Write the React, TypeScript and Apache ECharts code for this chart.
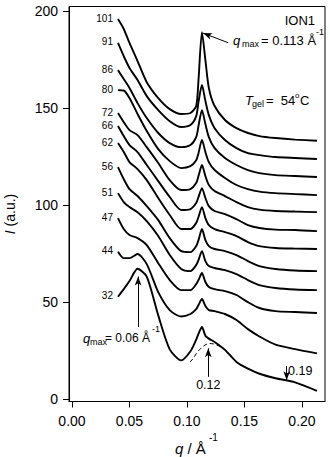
import React, { useEffect, useRef } from 'react';
import * as echarts from 'echarts';

// scattering vector q (Å^-1) sampling points shared by all curves
const Q = [0.040, 0.045, 0.050, 0.057, 0.065, 0.075, 0.085, 0.095, 0.103, 0.108, 0.110, 0.113, 0.116, 0.119, 0.124, 0.133, 0.143, 0.153, 0.163, 0.177, 0.194, 0.213];

// temperature labels (°C) of the curves, top to bottom
const LABELS = ['101', '91', '86', '80', '72', '66', '62', '56', '51', '47', '44', '32'];

// intensities I (a.u.), offset curves
const I_101 = [195.7, 190.6, 183.4, 174.1, 163.2, 155.0, 149.3, 146.8, 147.3, 150.9, 164.3, 189.0, 174.6, 160.2, 150.9, 143.7, 139.5, 137.0, 135.4, 134.4, 133.6, 133.0];
const I_91 = [183.4, 176.6, 170.5, 164.3, 156.0, 148.8, 143.1, 140.1, 141.1, 145.7, 152.9, 161.7, 153.5, 146.2, 139.5, 133.4, 129.2, 126.6, 125.6, 124.6, 124.1, 123.6];
const I_86 = [169.4, 164.8, 160.2, 152.4, 144.7, 137.0, 131.8, 129.7, 130.8, 134.9, 140.6, 148.8, 141.6, 134.9, 129.2, 124.1, 120.5, 117.9, 116.3, 115.3, 114.8, 114.3];
const I_80 = [159.1, 158.9, 155.0, 146.8, 138.0, 128.7, 122.5, 118.9, 119.9, 123.0, 126.6, 133.4, 127.2, 122.0, 117.9, 113.8, 110.2, 108.1, 106.8, 106.0, 105.5, 105.0];
const I_72 = [147.3, 142.6, 138.5, 135.9, 129.7, 121.5, 112.7, 107.6, 108.1, 111.2, 114.8, 120.5, 114.8, 110.2, 107.1, 104.5, 101.4, 98.8, 97.5, 96.8, 96.5, 96.2];
const I_66 = [140.6, 135.4, 130.8, 127.2, 120.5, 112.2, 104.0, 97.3, 97.8, 100.9, 104.0, 108.6, 103.5, 99.3, 96.8, 95.2, 92.6, 89.5, 88.0, 87.2, 87.0, 86.4];
const I_62 = [131.8, 127.2, 122.0, 118.4, 112.7, 103.5, 94.7, 87.5, 87.5, 90.6, 93.7, 98.8, 93.1, 89.5, 87.5, 85.9, 83.9, 80.8, 78.7, 77.7, 77.4, 77.2];
const I_56 = [119.4, 113.2, 108.1, 104.5, 99.3, 92.1, 82.8, 76.1, 75.6, 78.7, 81.8, 87.5, 81.8, 78.7, 77.2, 76.1, 74.1, 71.0, 68.4, 66.9, 66.1, 65.8];
const I_51 = [106.0, 101.4, 98.8, 96.2, 91.6, 83.9, 74.1, 66.9, 65.8, 68.9, 71.5, 76.1, 71.0, 68.4, 67.4, 66.3, 64.3, 61.2, 58.6, 57.1, 56.3, 56.0];
const I_47 = [93.1, 87.5, 84.4, 82.8, 79.2, 69.9, 61.2, 56.0, 56.0, 59.1, 61.2, 64.8, 60.2, 57.6, 56.5, 55.5, 53.5, 49.8, 46.8, 45.2, 44.7, 44.2];
const I_44 = [75.8, 72.5, 72.5, 74.6, 69.4, 55.0, 45.7, 42.4, 43.7, 46.2, 48.3, 51.4, 47.8, 45.7, 45.2, 43.7, 40.6, 35.9, 32.1, 27.9, 25.6, 23.4];
const I_32 = [52.6, 56.5, 60.7, 67.0, 63.0, 43.0, 25.5, 19.8, 24.5, 30.5, 33.5, 37.0, 32.5, 31.0, 29.3, 25.2, 19.0, 15.5, 12.9, 10.6, 8.5, 4.1];

const CURVES = [I_101, I_91, I_86, I_80, I_72, I_66, I_62, I_56, I_51, I_47, I_44, I_32];

// dashed fitted peak under the 32 °C curve
const DASH_Q = [0.1026, 0.1052, 0.1087, 0.1122, 0.1157, 0.1191, 0.1235, 0.1278, 0.1322, 0.1365, 0.140];
const DASH_I = [18.9, 20.7, 23.8, 26.1, 27.7, 28.5, 28.2, 27.2, 25.6, 23.3, 21.0];

// axis ticks
const X_TICKS = [0, 0.05, 0.1, 0.15, 0.2];
const Y_TICKS = [0, 50, 100, 150, 200];

// annotation arrows [q1, I1, q2, I2] (tail -> head)
const ARROW_QMAX113 = [0.1359, 183.5, 0.1139, 188.5];
const ARROW_QMAX06 = [0.0575, 37.0, 0.0575, 63.0];
const ARROW_012 = [0.1185, 11.3, 0.1185, 26.0];
const ARROW_019 = [0.1867, 16.9, 0.1867, 9.6];

const FONT = '"Liberation Sans", Arial, Helvetica, sans-serif';

function txt(x: number, y: number, text: string, size: number, opts: any = {}) {
  return {
    type: 'text',
    x,
    y,
    rotation: opts.rotation || 0,
    silent: true,
    style: {
      text,
      fill: '#000',
      fontFamily: FONT,
      fontSize: size,
      fontStyle: opts.italic ? 'italic' : 'normal',
      textAlign: opts.align || 'left',
      align: opts.align || 'left',
      textVerticalAlign: 'middle',
      verticalAlign: 'middle',
      rich: opts.rich,
    },
  };
}

function arrow(a: number[]) {
  return [{ coord: [a[0], a[1]] }, { coord: [a[2], a[3]] }];
}

export default function App() {
  const ref = useRef<HTMLDivElement>(null);
  useEffect(() => {
    const chart = echarts.init(ref.current!, null, { renderer: 'svg' });

    const series: any[] = CURVES.map((vals, k) => ({
      type: 'line',
      name: LABELS[k],
      symbol: 'none',
      showSymbol: true,
      smooth: 0.25,
      silent: true,
      lineStyle: { color: '#000', width: 1.9 },
      itemStyle: { color: '#000' },
      data: Q.map((q, i) =>
        i === 0
          ? {
              value: [q, vals[i]],
              symbol: 'circle',
              symbolSize: 0.01,
              label: {
                show: true,
                position: 'left',
                distance: 5,
                formatter: LABELS[k],
                fontSize: 10,
                fontFamily: FONT,
                color: '#000',
                offset: [0, -1],
              },
            }
          : [q, vals[i]]
      ),
    }));

    series.push({
      type: 'line',
      name: 'fit',
      symbol: 'none',
      smooth: 0.3,
      silent: true,
      lineStyle: { color: '#000', width: 1, type: [4, 3] },
      data: DASH_Q.map((q, i) => [q, DASH_I[i]]),
      markLine: {
        silent: true,
        symbol: ['none', 'arrow'],
        symbolSize: [5, 9],
        label: { show: false },
        lineStyle: { color: '#000', width: 1, type: 'solid' },
        emphasis: { disabled: true },
        data: [arrow(ARROW_QMAX113), arrow(ARROW_QMAX06), arrow(ARROW_012), arrow(ARROW_019)],
      },
    });

    chart.setOption({
      animation: false,
      backgroundColor: '#fff',
      grid: {
        left: 69,
        right: 5,
        top: 6.5,
        bottom: 55.5,
        show: true,
        borderColor: '#000',
        borderWidth: 1,
        containLabel: false,
        outerBoundsMode: 'none',
      },
      xAxis: {
        type: 'value',
        min: -0.0026,
        max: 0.22,
        axisLine: { show: true, onZero: false, lineStyle: { color: '#000', width: 1 } },
        axisTick: { show: true, inside: false, length: 6, customValues: X_TICKS, lineStyle: { color: '#000' } },
        axisLabel: {
          customValues: X_TICKS,
          formatter: (v: number) => v.toFixed(2),
          fontSize: 14,
          fontFamily: FONT,
          color: '#000',
          margin: 12,
        },
        splitLine: { show: false },
      },
      yAxis: {
        type: 'value',
        min: -1.4,
        max: 202.2,
        axisLine: { show: true, onZero: false, lineStyle: { color: '#000', width: 1 } },
        axisTick: { show: true, inside: false, length: 6, customValues: Y_TICKS, lineStyle: { color: '#000' } },
        axisLabel: {
          customValues: Y_TICKS,
          fontSize: 14,
          fontFamily: FONT,
          color: '#000',
          margin: 11,
        },
        splitLine: { show: false },
      },
      graphic: [
        // y axis title
        txt(10, 214, '{i|I} (a.u.)', 14, {
          rotation: Math.PI / 2,
          align: 'center',
          rich: { i: { fontStyle: 'italic', fontSize: 14, fontFamily: FONT } },
        }),
        // x axis title
        txt(175, 448, '{i|q} / Å', 15, { rich: { i: { fontStyle: 'italic', fontSize: 15, fontFamily: FONT } } }),
        txt(209, 437, '-1', 10),
        // sample name
        txt(315, 20, 'ION1', 13, { align: 'right' }),
        // q_max = 0.113
        txt(233, 40, 'q', 13, { italic: true }),
        txt(242, 44, 'max', 9),
        txt(261, 40, '= 0.113 Å', 13),
        txt(316, 32, '-1', 9),
        // T_gel
        txt(245, 100, 'T', 13, { italic: true }),
        txt(252, 104, 'gel', 9),
        txt(266, 100, '=  54', 13),
        txt(295, 95, 'o', 8),
        txt(300, 100, 'C', 13),
        // q_max = 0.06
        txt(83, 338, 'q', 13, { italic: true }),
        txt(90, 342, 'max', 9),
        txt(105, 338, '= 0.06 Å', 12),
        txt(152, 329, '-1', 9),
        // peak positions
        txt(208.3, 385, '0.12', 12.5, { align: 'center' }),
        txt(288, 371, '0.19', 12.5),
      ],
      series,
    });

    return () => chart.dispose();
  }, []);

  return (
    <div
      ref={ref}
      style={{ position: 'fixed', left: 0, top: 0, width: 330, height: 457, background: '#fff' }}
    />
  );
}
